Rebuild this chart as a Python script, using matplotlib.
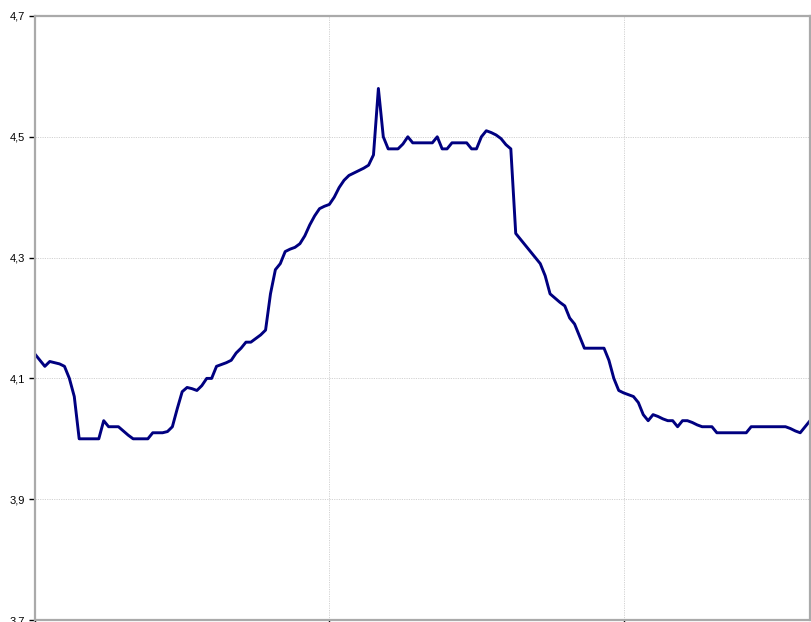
import matplotlib
matplotlib.use('Agg')
import matplotlib.pyplot as plt
from matplotlib.ticker import FuncFormatter

# readings, one per sample
values = [
    4.14, 4.13, 4.12, 4.128, 4.126, 4.124, 4.12, 4.10, 4.07, 4.00,
    4.00, 4.00, 4.00, 4.00, 4.03, 4.02, 4.02, 4.02, 4.013, 4.006,
    4.00, 4.00, 4.00, 4.00, 4.01, 4.01, 4.01, 4.012, 4.02, 4.05,
    4.078, 4.085, 4.083, 4.08, 4.088, 4.10, 4.10, 4.12, 4.123, 4.126,
    4.13, 4.142, 4.15, 4.16, 4.16, 4.166, 4.172, 4.18, 4.24, 4.28,
    4.29, 4.31, 4.314, 4.317, 4.323, 4.336, 4.354, 4.369, 4.381, 4.385,
    4.388, 4.40, 4.416, 4.428, 4.436, 4.44, 4.444, 4.448, 4.453, 4.47,
    4.58, 4.50, 4.48, 4.48, 4.48, 4.488, 4.50, 4.49, 4.49, 4.49,
    4.49, 4.49, 4.50, 4.48, 4.48, 4.49, 4.49, 4.49, 4.49, 4.48,
    4.48, 4.50, 4.51, 4.507, 4.503, 4.497, 4.487, 4.48, 4.34, 4.33,
    4.32, 4.31, 4.30, 4.29, 4.27, 4.24, 4.233, 4.226, 4.22, 4.20,
    4.19, 4.17, 4.15, 4.15, 4.15, 4.15, 4.15, 4.13, 4.10, 4.08,
    4.076, 4.073, 4.07, 4.06, 4.04, 4.03, 4.04, 4.037, 4.033, 4.03,
    4.03, 4.02, 4.03, 4.03, 4.027, 4.023, 4.02, 4.02, 4.02, 4.01,
    4.01, 4.01, 4.01, 4.01, 4.01, 4.01, 4.02, 4.02, 4.02, 4.02,
    4.02, 4.02, 4.02, 4.02, 4.017, 4.013, 4.01, 4.02, 4.03,
]
x = list(range(len(values)))
y_ticks = [3.7, 3.9, 4.1, 4.3, 4.5, 4.7]
x_ticks = [0, 60, 120]

plt.rcParams['font.family'] = ['Liberation Sans', 'DejaVu Sans']

fig = plt.figure(figsize=(8.11, 6.22), dpi=100)
ax = fig.add_axes([0.0432, 0.0032, 0.9556, 0.9711])

ax.plot(x, values, color='#000080', linewidth=2.1)

ax.set_xlim(0, len(values) - 1)
ax.set_ylim(3.7, 4.7)
ax.set_yticks(y_ticks)
ax.set_xticks(x_ticks)
ax.set_xticklabels([])
ax.yaxis.set_major_formatter(FuncFormatter(lambda v, p: f'{v:.1f}'.replace('.', ',')))

ax.grid(True, color='#d2d2d2', linestyle=(0, (1.2, 1.2)), linewidth=0.7)
ax.set_axisbelow(True)

for s in ax.spines.values():
    s.set_color('#aaaaaa')
    s.set_linewidth(1.6)

ax.tick_params(axis='y', length=4, width=1, color='black', labelsize=8, pad=3)
ax.tick_params(axis='x', length=4, width=1, color='black')

fig.savefig('out.png', dpi=100)
